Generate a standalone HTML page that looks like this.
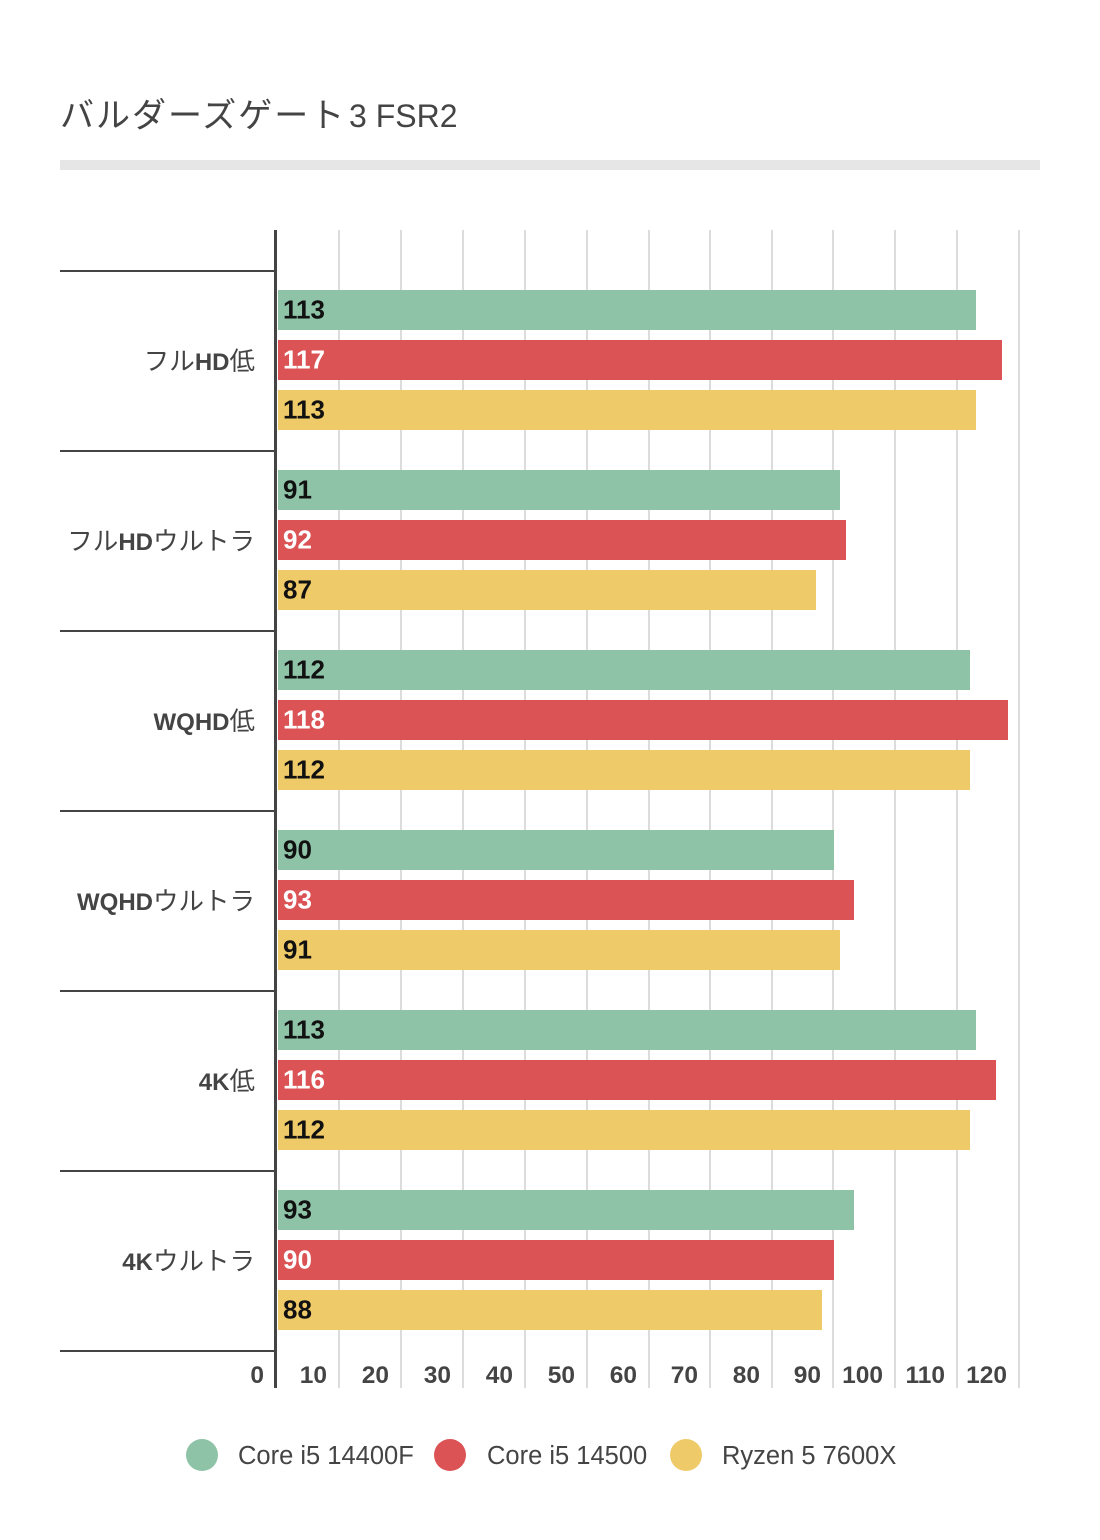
<!DOCTYPE html>
<html><head><meta charset="utf-8"><style>
html,body{margin:0;padding:0;background:#fff;}
svg{display:block;}
text{font-family:"Liberation Sans","Noto Sans CJK JP",sans-serif;}
.cat{font-size:25.5px;fill:#444;text-anchor:end;}
.cat .l{font-weight:bold;font-size:24px;}
.tick{font-size:24.5px;fill:#444;font-weight:bold;text-anchor:end;}
.val{font-size:26px;font-weight:bold;}
.leg{font-size:25.5px;fill:#444;}
</style></head><body>
<svg width="1100" height="1540" viewBox="0 0 1100 1540" xmlns="http://www.w3.org/2000/svg">
<rect width="1100" height="1540" fill="#fff"/>
<!-- title -->
<text x="60" y="127" fill="#444" style="font-size:32px"><tspan style="font-family:'Noto Sans CJK JP',sans-serif;font-size:34px;letter-spacing:2px">バルダーズゲート</tspan><tspan x="349">3 FSR2</tspan></text>
<rect x="60" y="160" width="980" height="10" fill="#e6e6e6"/>
<!-- gridlines -->
<g fill="#dcdcdc">
<rect x="338" y="230" width="2" height="1158"/>
<rect x="400" y="230" width="2" height="1158"/>
<rect x="462" y="230" width="2" height="1158"/>
<rect x="524" y="230" width="2" height="1158"/>
<rect x="586" y="230" width="2" height="1158"/>
<rect x="648" y="230" width="2" height="1158"/>
<rect x="709" y="230" width="2" height="1158"/>
<rect x="771" y="230" width="2" height="1158"/>
<rect x="832" y="230" width="2" height="1158"/>
<rect x="894" y="230" width="2" height="1158"/>
<rect x="956" y="230" width="2" height="1158"/>
<rect x="1018" y="230" width="2" height="1158"/>
</g>
<!-- bars -->
<g>
<rect x="278" y="290" width="698" height="40" fill="#8ec3a7"/>
<rect x="278" y="340" width="724" height="40" fill="#dc5356"/>
<rect x="278" y="390" width="698" height="40" fill="#efca68"/>

<rect x="278" y="470" width="562" height="40" fill="#8ec3a7"/>
<rect x="278" y="520" width="568" height="40" fill="#dc5356"/>
<rect x="278" y="570" width="538" height="40" fill="#efca68"/>

<rect x="278" y="650" width="692" height="40" fill="#8ec3a7"/>
<rect x="278" y="700" width="730" height="40" fill="#dc5356"/>
<rect x="278" y="750" width="692" height="40" fill="#efca68"/>

<rect x="278" y="830" width="556" height="40" fill="#8ec3a7"/>
<rect x="278" y="880" width="576" height="40" fill="#dc5356"/>
<rect x="278" y="930" width="562" height="40" fill="#efca68"/>

<rect x="278" y="1010" width="698" height="40" fill="#8ec3a7"/>
<rect x="278" y="1060" width="718" height="40" fill="#dc5356"/>
<rect x="278" y="1110" width="692" height="40" fill="#efca68"/>

<rect x="278" y="1190" width="576" height="40" fill="#8ec3a7"/>
<rect x="278" y="1240" width="556" height="40" fill="#dc5356"/>
<rect x="278" y="1290" width="544" height="40" fill="#efca68"/>
</g>
<!-- value labels -->
<g class="val">
<text x="283" y="318.5" fill="#111">113</text>
<text x="283" y="368.5" fill="#fff">117</text>
<text x="283" y="418.5" fill="#111">113</text>
<text x="283" y="498.5" fill="#111">91</text>
<text x="283" y="548.5" fill="#fff">92</text>
<text x="283" y="598.5" fill="#111">87</text>
<text x="283" y="678.5" fill="#111">112</text>
<text x="283" y="728.5" fill="#fff">118</text>
<text x="283" y="778.5" fill="#111">112</text>
<text x="283" y="858.5" fill="#111">90</text>
<text x="283" y="908.5" fill="#fff">93</text>
<text x="283" y="958.5" fill="#111">91</text>
<text x="283" y="1038.5" fill="#111">113</text>
<text x="283" y="1088.5" fill="#fff">116</text>
<text x="283" y="1138.5" fill="#111">112</text>
<text x="283" y="1218.5" fill="#111">93</text>
<text x="283" y="1268.5" fill="#fff">90</text>
<text x="283" y="1318.5" fill="#111">88</text>
</g>
<!-- category separators -->
<g fill="#444">
<rect x="60" y="270" width="216" height="2"/>
<rect x="60" y="450" width="216" height="2"/>
<rect x="60" y="630" width="216" height="2"/>
<rect x="60" y="810" width="216" height="2"/>
<rect x="60" y="990" width="216" height="2"/>
<rect x="60" y="1170" width="216" height="2"/>
<rect x="60" y="1350" width="216" height="2"/>
<rect x="274" y="230" width="3" height="1158"/>
</g>
<!-- category labels -->
<g class="cat">
<text x="255" y="370">フル<tspan class="l">HD</tspan>低</text>
<text x="255" y="550">フル<tspan class="l">HD</tspan>ウルトラ</text>
<text x="255" y="730"><tspan class="l">WQHD</tspan>低</text>
<text x="255" y="910"><tspan class="l">WQHD</tspan>ウルトラ</text>
<text x="255" y="1090"><tspan class="l">4K</tspan>低</text>
<text x="255" y="1270"><tspan class="l">4K</tspan>ウルトラ</text>
</g>
<!-- ticks -->
<g class="tick">
<text x="264" y="1383">0</text>
<text x="327" y="1383">10</text>
<text x="389" y="1383">20</text>
<text x="451" y="1383">30</text>
<text x="513" y="1383">40</text>
<text x="575" y="1383">50</text>
<text x="637" y="1383">60</text>
<text x="698" y="1383">70</text>
<text x="760" y="1383">80</text>
<text x="821" y="1383">90</text>
<text x="883" y="1383">100</text>
<text x="945" y="1383">110</text>
<text x="1007" y="1383">120</text>
</g>
<!-- legend -->
<circle cx="202" cy="1455" r="16" fill="#8ec3a7"/>
<text class="leg" x="238" y="1464">Core i5 14400F</text>
<circle cx="450" cy="1455" r="16" fill="#dc5356"/>
<text class="leg" x="487" y="1464">Core i5 14500</text>
<circle cx="686" cy="1455" r="16" fill="#efca68"/>
<text class="leg" x="722" y="1464">Ryzen 5 7600X</text>
</svg>
</body></html>
